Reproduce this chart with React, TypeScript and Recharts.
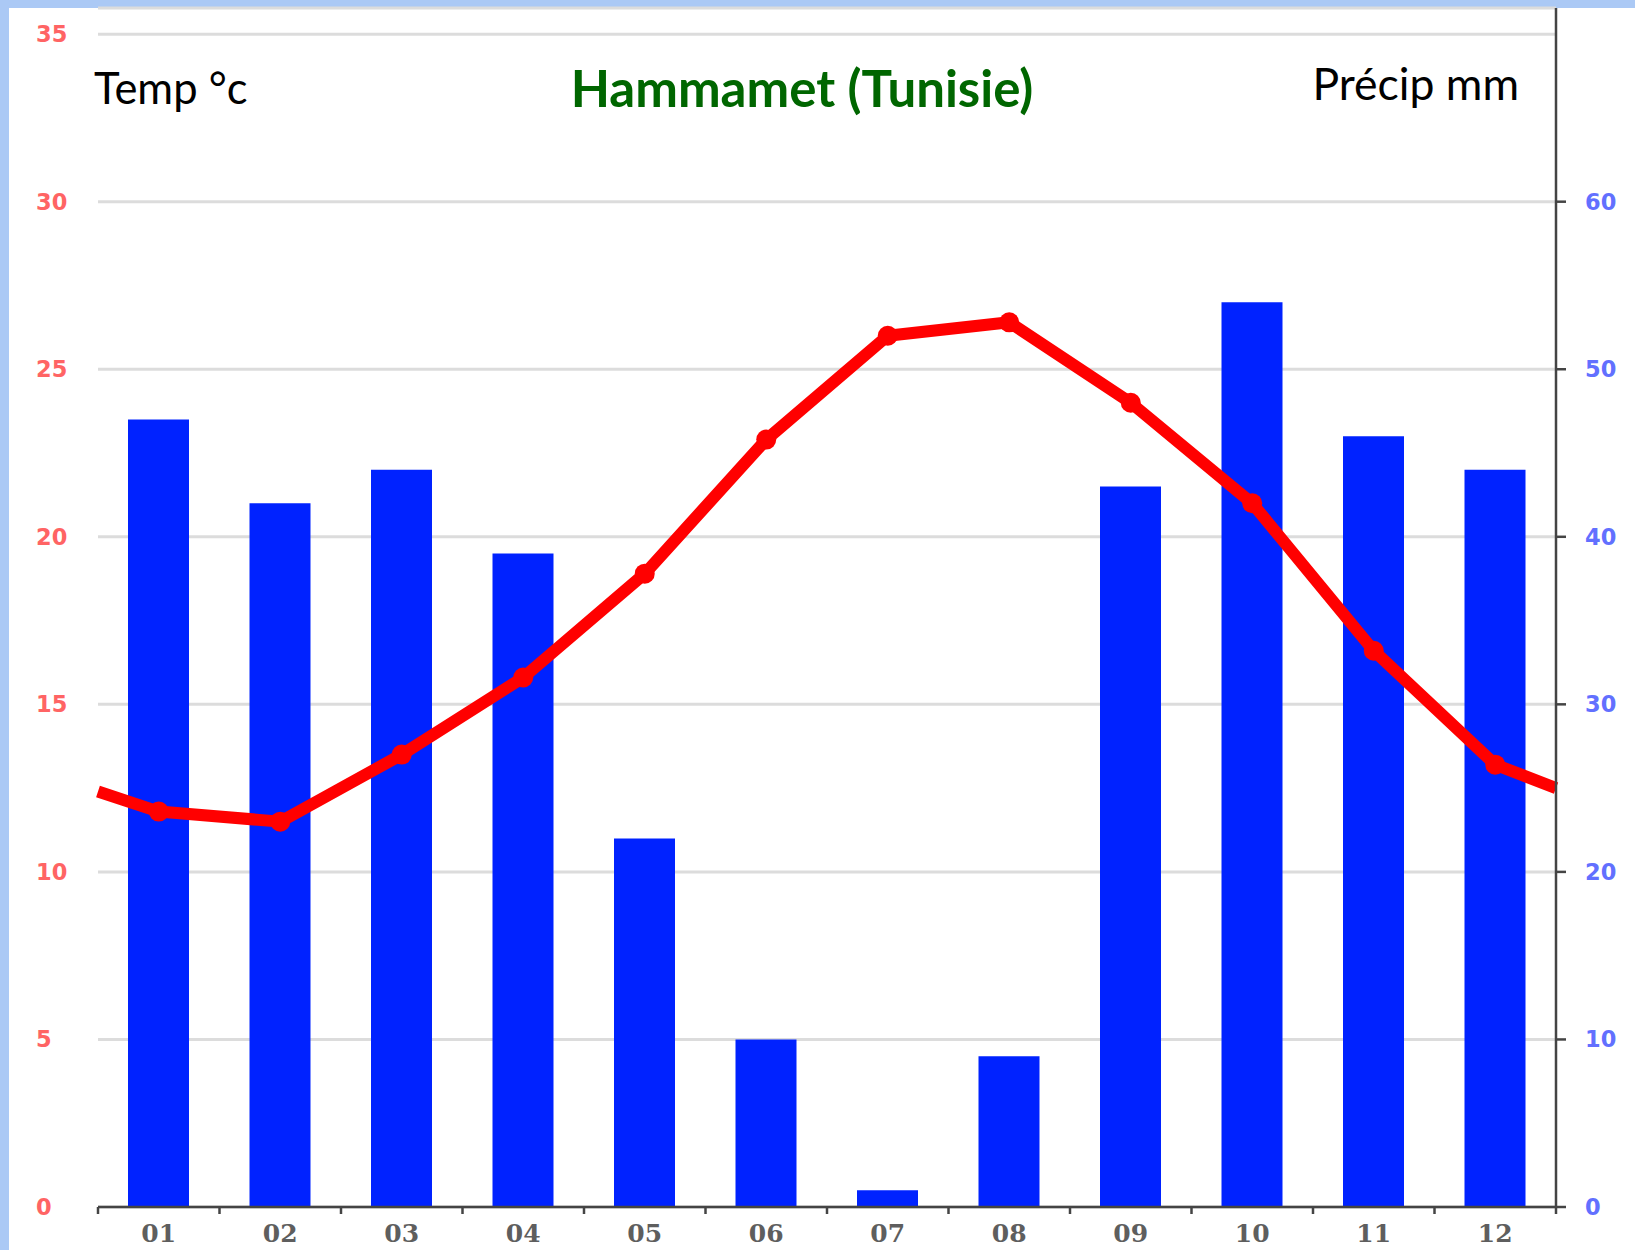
import React from 'react';
import { ComposedChart, Bar, Line, XAxis, YAxis, CartesianGrid } from 'recharts';

const months = ['01', '02', '03', '04', '05', '06', '07', '08', '09', '10', '11', '12'];
const tempC = [11.8, 11.5, 13.5, 15.8, 18.9, 22.9, 26.0, 26.4, 24.0, 21.0, 16.6, 13.2];
const precipMm = [47, 42, 44, 39, 22, 10, 1, 9, 43, 54, 46, 44];
// the temperature line runs on to the frame at both ends
const tempLeftEdge = 12.4;
const tempRightEdge = 12.5;

const tempTicks = [0, 5, 10, 15, 20, 25, 30, 35];
const precipTicks = [0, 10, 20, 30, 40, 50, 60];

const barData = months.map((m, i) => ({ x: i + 1, label: m, precip: precipMm[i] }));
const lineData = [
  { x: 0.5, temp: tempLeftEdge },
  ...months.map((m, i) => ({ x: i + 1, temp: tempC[i] })),
  { x: months.length + 0.5, temp: tempRightEdge },
];

const monthTicks = months.map((_, i) => i + 1);
const xDomain = [0.5, months.length + 0.5];

const W = 1635;
const H = 1250;
const MARGIN = { top: 8, right: 19, bottom: 3, left: 38 };
const Y_AXIS_W = 60;
const AXIS_Y = 1207;
const HALF_BAND = (W - MARGIN.left - MARGIN.right - 2 * Y_AXIS_W) / months.length / 2;

const XTick = (props: any) => {
  const { x, payload } = props;
  const v = payload.value;
  return (
    <g>
      <line x1={x - HALF_BAND} x2={x - HALF_BAND} y1={AXIS_Y} y2={AXIS_Y + 7} stroke="#444" strokeWidth={2.5} />
      {v === months.length && (
        <line x1={x + HALF_BAND} x2={x + HALF_BAND} y1={AXIS_Y} y2={AXIS_Y + 7} stroke="#444" strokeWidth={2.5} />
      )}
      <text x={x} y={AXIS_Y + 26} textAnchor="middle" dominantBaseline="central"
        fontFamily="DejaVu Serif" fontSize={25} fontWeight="bold" fill="#5e5e5e">
        {months[v - 1]}
      </text>
    </g>
  );
};

const LeftTick = (props: any) => (
  <text x={36} y={props.y} dominantBaseline="central" fontFamily="DejaVu Sans" fontWeight="bold"
    fontSize={22.5} fill="#ff6464">
    {props.payload.value}
  </text>
);

const RightTick = (props: any) => (
  <text x={1585} y={props.y} dominantBaseline="central" fontFamily="DejaVu Sans" fontWeight="bold"
    fontSize={22.5} fill="#6270ff">
    {props.payload.value}
  </text>
);

const TempDot = (props: any) => {
  const { cx, cy, payload, index } = props;
  if (!Number.isInteger(payload.x)) return <g key={`d${index}`} />;
  return <circle key={`d${index}`} cx={cx} cy={cy} r={10} fill="#ff0000" />;
};

export default function App() {
  return (
    <div style={{ position: 'absolute', left: 0, top: 0, width: W, height: H, background: '#fff', overflow: 'hidden' }}>
      <div style={{ position: 'absolute', left: 0, top: 0, width: W, height: 8, background: '#abc9f5' }} />
      <div style={{ position: 'absolute', left: 0, top: 0, width: 9, height: H, background: '#abc9f5' }} />
      <div style={{ position: 'absolute', left: 0, top: 0 }}>
        <ComposedChart width={W} height={H} data={barData} margin={MARGIN}>
          <CartesianGrid yAxisId="left" vertical={false} stroke="#dcdcdc" strokeWidth={3} />
          <XAxis dataKey="x" type="number" domain={xDomain} ticks={monthTicks} interval={0}
            tick={<XTick />} tickLine={false} axisLine={{ stroke: '#444', strokeWidth: 2.5 }} height={40} />
          <XAxis xAxisId="line" dataKey="x" type="number" domain={xDomain} hide />
          <YAxis yAxisId="left" domain={[0, 35.78]} ticks={tempTicks} interval={0} width={Y_AXIS_W}
            axisLine={false} tickLine={false} tick={<LeftTick />} />
          <YAxis yAxisId="right" orientation="right" domain={[0, 71.56]} ticks={precipTicks} interval={0}
            width={Y_AXIS_W} axisLine={{ stroke: '#444', strokeWidth: 2.5 }}
            tickLine={{ stroke: '#444', strokeWidth: 2.5 }} tickSize={10} tick={<RightTick />} />
          <Bar yAxisId="right" dataKey="precip" fill="#0022ff" barSize={61} isAnimationActive={false} />
          <Line data={lineData} xAxisId="line" yAxisId="left" dataKey="temp" type="linear" stroke="#ff0000"
            strokeWidth={12} strokeLinejoin="round" dot={TempDot} activeDot={false} isAnimationActive={false} />
        </ComposedChart>
      </div>
      <svg width={W} height={H} style={{ position: 'absolute', left: 0, top: 0, pointerEvents: 'none' }}>
        <text x={94} y={104} fontFamily="Lato" fontSize={43.5} fill="#000">Temp °c</text>
        <text x={802} y={107} textAnchor="middle" fontFamily="Lato" fontWeight="bold" fontSize={51} fill="#006600">
          Hammamet (Tunisie)
        </text>
        <text x={1519} y={100} textAnchor="end" fontFamily="Lato" fontSize={44.5} fill="#000">Précip mm</text>
      </svg>
    </div>
  );
}
